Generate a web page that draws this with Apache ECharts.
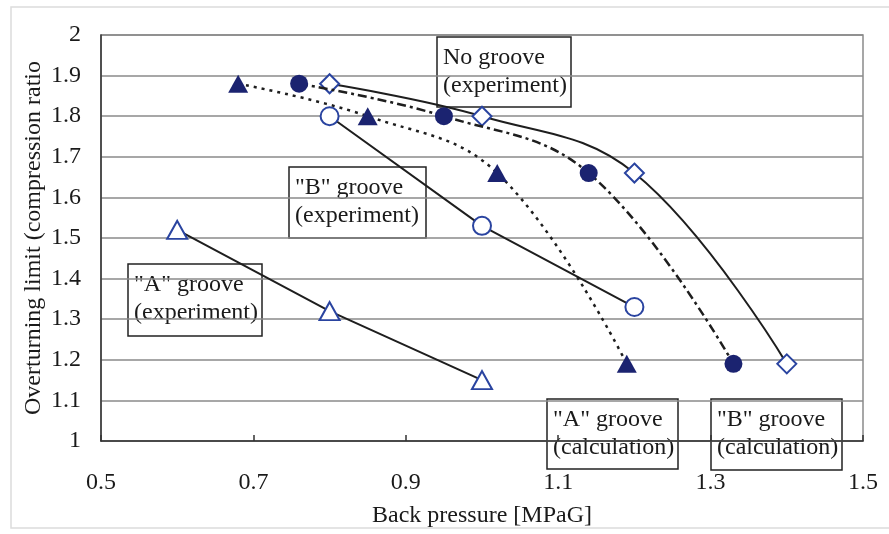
<!DOCTYPE html>
<html>
<head>
<meta charset="utf-8">
<script src="https://cdn.jsdelivr.net/npm/echarts@6/dist/echarts.min.js"></script>
<style>
  html, body { margin: 0; padding: 0; background: #fff; }
  #chart { width: 889px; height: 534px; }
</style>
</head>
<body>
<div id="chart"></div>
<script>
// Back pressure [MPaG] and overturning limit (compression ratio) for each case
const pressureAExp = [0.6, 0.8, 1.0];
const ratioAExp = [1.52, 1.32, 1.15];

const pressureBExp = [0.8, 1.0, 1.2];
const ratioBExp = [1.80, 1.53, 1.33];

const pressureNoGroove = [0.8, 1.0, 1.2, 1.4];
const ratioNoGroove = [1.88, 1.80, 1.66, 1.19];

const pressureACalc = [0.68, 0.85, 1.02, 1.19];
const ratioACalc = [1.88, 1.80, 1.66, 1.19];

const pressureBCalc = [0.76, 0.95, 1.14, 1.33];
const ratioBCalc = [1.88, 1.80, 1.66, 1.19];

// Annotation texts
const noteNoGroove = ['No groove', '(experiment)'];
const noteBExp = ['"B" groove', '(experiment)'];
const noteAExp = ['"A" groove', '(experiment)'];
const noteACalc = ['"A" groove', '(calculation)'];
const noteBCalc = ['"B" groove', '(calculation)'];

const xAxisName = 'Back pressure [MPaG]';
const yAxisName = 'Overturning limit (compression ratio';

const zip = (xs, ys) => xs.map((x, i) => [x, ys[i]]);

const FONT = '"Liberation Serif", "Times New Roman", serif';
const TEXT = '#1a1a1a';
const LINE = '#1e1e1e';
const OPEN_BLUE = '#2a44a0';
const NAVY = '#1b2370';
const GRID = '#8a8a8a';

function openSeries(name, data, symbol, size, smooth) {
  return {
    name, type: 'line', data, smooth: smooth,
    symbol, symbolSize: size, showSymbol: true,
    lineStyle: { color: LINE, width: 2 },
    itemStyle: { color: '#ffffff', borderColor: OPEN_BLUE, borderWidth: 2 },
    z: 3
  };
}
function filledSeries(name, data, symbol, size, dash) {
  return {
    name, type: 'line', data, smooth: 0.4,
    symbol, symbolSize: size, showSymbol: true,
    lineStyle: { color: LINE, width: 2.5, type: dash },
    itemStyle: { color: NAVY, borderColor: NAVY, borderWidth: 0 },
    z: 4
  };
}

function note(x, y, w, h, lines) {
  return {
    type: 'group', x, y, z: 100,
    children: [
      { type: 'rect', shape: { x: 0, y: 0, width: w, height: h },
        style: { fill: '#ffffff', stroke: '#222', lineWidth: 1.5 } },
      { type: 'text', x: 6, y: 7,
        style: { text: lines.join('\n'), font: '24px ' + FONT, fill: TEXT,
                 lineHeight: 28, verticalAlign: 'top', align: 'left' } }
    ]
  };
}

const chart = echarts.init(document.getElementById('chart'), null, { renderer: 'canvas' });

chart.setOption({
  animation: false,
  backgroundColor: '#ffffff',
  grid: { left: 101, top: 35, right: 26, bottom: 93, show: true,
          borderColor: GRID, borderWidth: 1.5, backgroundColor: 'transparent' },
  xAxis: {
    type: 'value', min: 0.5, max: 1.5, interval: 0.2,
    name: xAxisName, nameLocation: 'middle', nameGap: 63, nameMoveOverlap: false,
    nameTextStyle: { fontFamily: FONT, fontSize: 24, color: TEXT },
    axisLine: { show: true, onZero: false, lineStyle: { color: '#333', width: 1.5 } },
    axisTick: { show: true, inside: true, length: 6, lineStyle: { color: '#333', width: 1.5 } },
    axisLabel: { fontFamily: FONT, fontSize: 24, color: TEXT, margin: 30 },
    splitLine: { show: false }
  },
  yAxis: {
    type: 'value', min: 1, max: 2, interval: 0.1,
    name: yAxisName, nameLocation: 'middle', nameGap: 55, nameRotate: 90, nameMoveOverlap: false,
    nameTextStyle: { fontFamily: FONT, fontSize: 24, color: TEXT },
    axisLine: { show: true, lineStyle: { color: '#333', width: 1.5 } },
    axisTick: { show: false },
    axisLabel: { fontFamily: FONT, fontSize: 24, color: TEXT, margin: 20,
                 formatter: v => String(+v.toFixed(1)) },
    splitLine: { show: true, lineStyle: { color: GRID, width: 1.5 } }
  },
  series: [
    openSeries('"A" groove (experiment)', zip(pressureAExp, ratioAExp), 'triangle', [20, 18], false),
    openSeries('"B" groove (experiment)', zip(pressureBExp, ratioBExp), 'circle', 18, false),
    openSeries('No groove (experiment)', zip(pressureNoGroove, ratioNoGroove), 'diamond', [19, 19], 0.4),
    filledSeries('"A" groove (calculation)', zip(pressureACalc, ratioACalc), 'triangle', [20, 18], [3, 5]),
    filledSeries('"B" groove (calculation)', zip(pressureBCalc, ratioBCalc), 'circle', 18, [9, 4, 3, 4])
  ],
  graphic: [
    { type: 'rect', z: -10, shape: { x: 11, y: 7, width: 900, height: 521 },
      style: { fill: 'none', stroke: '#dcdcdc', lineWidth: 1.5 } },
    note(437, 37, 134, 70, noteNoGroove),
    note(289, 167, 137, 71, noteBExp),
    note(128, 264, 134, 72, noteAExp),
    note(547, 399, 131, 70, noteACalc),
    note(711, 399, 131, 71, noteBCalc)
  ]
});
</script>
</body>
</html>
